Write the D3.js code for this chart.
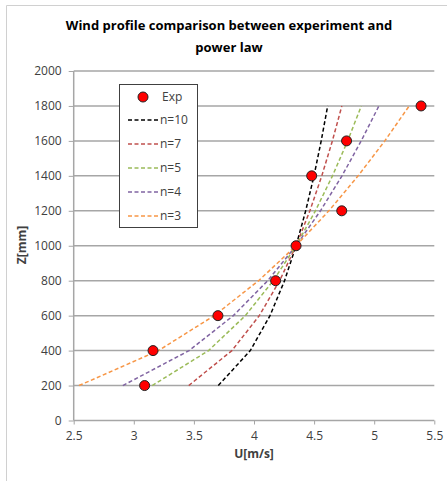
<!DOCTYPE html>
<html><head><meta charset="utf-8">
<script src="https://cdn.jsdelivr.net/npm/d3@7"></script>
<style>body{margin:0;background:#fff}svg{display:block}</style>
</head><body>
<svg id="c" width="447" height="481"></svg>
<script>
const heights = [200, 400, 600, 800, 1000, 1200, 1400, 1600, 1800];
const expU = [3.09, 3.16, 3.70, 4.18, 4.35, 4.73, 4.48, 4.77, 5.39];
const seriesNames = ["n=10", "n=7", "n=5", "n=4", "n=3"];
const seriesColors = ["#000000", "#C0504D", "#9BBB59", "#8064A2", "#F79646"];
const n10 = [3.703, 3.969, 4.133, 4.254, 4.35, 4.430, 4.499, 4.559, 4.613];
const n7  = [3.457, 3.816, 4.044, 4.213, 4.35, 4.465, 4.564, 4.652, 4.731];
const n5  = [3.153, 3.622, 3.928, 4.160, 4.35, 4.511, 4.653, 4.779, 4.893];
const n4  = [2.909, 3.460, 3.828, 4.114, 4.35, 4.553, 4.732, 4.892, 5.039];
const n3  = [2.544, 3.205, 3.669, 4.038, 4.35, 4.623, 4.866, 5.088, 5.291];
const seriesValues = [n10, n7, n5, n4, n3];
const xTicks = [2.5, 3, 3.5, 4, 4.5, 5, 5.5];
const xTickLabels = ["2.5", "3", "3.5", "4", "4.5", "5", "5.5"];
const yTicks = [0, 200, 400, 600, 800, 1000, 1200, 1400, 1600, 1800, 2000];
const titleLines = ["Wind profile comparison between experiment and", "power law"];

const svg = d3.select("#c");
const font = "'Open Sans', sans-serif";
const x = d3.scaleLinear().domain([2.5, 5.5]).range([73.7, 434.3]);
const y = d3.scaleLinear().domain([0, 2000]).range([420.5, 71]);

// outer border
svg.append("line").attr("x1", 6.5).attr("x2", 447).attr("y1", 5.5).attr("y2", 5.5).attr("stroke", "#d0d0d0");
svg.append("line").attr("x1", 6.5).attr("x2", 6.5).attr("y1", 5.5).attr("y2", 481).attr("stroke", "#d0d0d0");

// title
svg.append("g").selectAll("text").data(titleLines).join("text")
  .attr("x", 229).attr("y", (d, i) => 30 + i * 22)
  .attr("text-anchor", "middle").attr("font-family", font).attr("font-weight", "bold")
  .attr("font-size", 13).attr("fill", "#000").text(d => d);

// gridlines
svg.append("g").selectAll("line").data(yTicks.filter(d => d > 0)).join("line")
  .attr("x1", x(2.5)).attr("x2", x(5.5)).attr("y1", d => y(d)).attr("y2", d => y(d))
  .attr("stroke", "#A6A6A6").attr("stroke-width", 1.5);

// axes
const yAxis = svg.append("g").attr("transform", `translate(${x(2.5)},0)`)
  .call(d3.axisLeft(y).tickValues(yTicks).tickSize(5).tickPadding(7).tickFormat(d3.format("d")));
const xAxis = svg.append("g").attr("transform", `translate(0,${y(0)})`)
  .call(d3.axisBottom(x).tickValues(xTicks).tickSize(4).tickPadding(7).tickFormat((d, i) => xTickLabels[i]));
[yAxis, xAxis].forEach(a => {
  a.select(".domain").attr("stroke", "#A6A6A6").attr("stroke-width", 1.5);
  a.selectAll(".tick line").attr("stroke", "#A6A6A6").attr("stroke-width", 1);
  a.selectAll("text").attr("font-family", font).attr("font-size", 12).attr("fill", "#404040");
});
xAxis.select(".domain").attr("d", `M${x(2.5)},0H${x(5.5)}`);
yAxis.select(".domain").attr("d", `M0,${y(0)}V${y(2000)}`);

// axis titles
svg.append("text").attr("x", 254).attr("y", 458).attr("text-anchor", "middle")
  .attr("font-family", font).attr("font-weight", "bold").attr("font-size", 12).attr("fill", "#404040").text("U[m/s]");
svg.append("text").attr("transform", "translate(26,245) rotate(-90)").attr("text-anchor", "middle")
  .attr("font-family", font).attr("font-weight", "bold").attr("font-size", 12).attr("fill", "#404040").text("Z[mm]");

// power law lines
const line = d3.line().x(d => x(d[0])).y(d => y(d[1]));
seriesValues.forEach((vals, i) => {
  svg.append("path").datum(vals.map((v, k) => [v, heights[k]]))
    .attr("d", line).attr("fill", "none").attr("stroke", seriesColors[i])
    .attr("stroke-width", 1.5).attr("stroke-dasharray", "4,2.5");
});

// experiment points
svg.append("g").selectAll("circle").data(expU.map((v, k) => [v, heights[k]])).join("circle")
  .attr("cx", d => x(d[0])).attr("cy", d => y(d[1])).attr("r", 5)
  .attr("fill", "#FF0000").attr("stroke", "#222").attr("stroke-width", 1);

// legend
const lg = svg.append("g");
lg.append("rect").attr("x", 119.5).attr("y", 84.5).attr("width", 78).attr("height", 143)
  .attr("fill", "#fff").attr("stroke", "#404040").attr("stroke-width", 1);
lg.append("circle").attr("cx", 143).attr("cy", 97).attr("r", 5).attr("fill", "#FF0000").attr("stroke", "#222");
lg.append("text").attr("x", 162).attr("y", 101).attr("font-family", font).attr("font-size", 12).attr("fill", "#404040").text("Exp");
seriesNames.forEach((nm, i) => {
  const yy = 120 + i * 24;
  lg.append("line").attr("x1", 128).attr("x2", 159).attr("y1", yy).attr("y2", yy)
    .attr("stroke", seriesColors[i]).attr("stroke-width", 1.5).attr("stroke-dasharray", "4,2.5");
  lg.append("text").attr("x", 160).attr("y", yy + 4).attr("font-family", font).attr("font-size", 12).attr("fill", "#404040").text(nm);
});
</script>
</body></html>
